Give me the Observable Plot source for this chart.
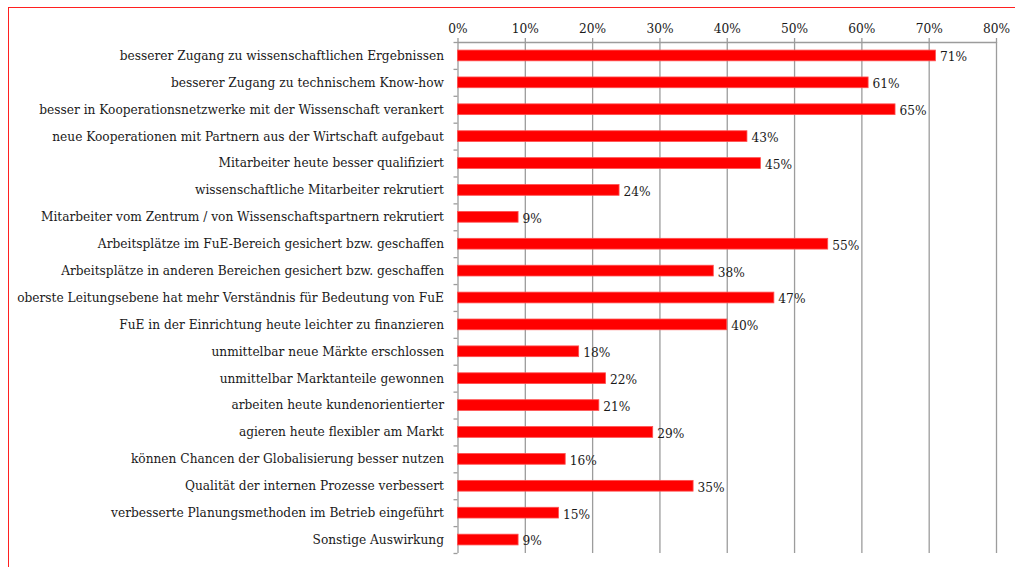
<!DOCTYPE html>
<html>
<head>
<meta charset="utf-8">
<script src="https://cdn.jsdelivr.net/npm/d3@7"></script>
<script src="https://cdn.jsdelivr.net/npm/@observablehq/plot@0.6"></script>
<style>
  html, body { margin: 0; padding: 0; background: #fff; overflow: hidden; }
  #frame { position: absolute; left: 8px; top: 7px; width: 1200px; height: 800px;
           border-top: 1px solid #ff2020; border-left: 1px solid #ff2020; }
  #chart { position: absolute; left: 0; top: 0; }
</style>
</head>
<body>
<div id="frame"></div>
<div id="chart"></div>
<script>
const categories = [
  "besserer Zugang zu wissenschaftlichen Ergebnissen",
  "besserer Zugang zu technischem Know-how",
  "besser in Kooperationsnetzwerke mit der Wissenschaft verankert",
  "neue Kooperationen mit Partnern aus der Wirtschaft aufgebaut",
  "Mitarbeiter heute besser qualifiziert",
  "wissenschaftliche Mitarbeiter rekrutiert",
  "Mitarbeiter vom Zentrum / von Wissenschaftspartnern rekrutiert",
  "Arbeitsplätze im FuE-Bereich gesichert bzw. geschaffen",
  "Arbeitsplätze in anderen Bereichen gesichert bzw. geschaffen",
  "oberste Leitungsebene hat mehr Verständnis für Bedeutung von FuE",
  "FuE in der Einrichtung heute leichter zu finanzieren",
  "unmittelbar neue Märkte erschlossen",
  "unmittelbar Marktanteile gewonnen",
  "arbeiten heute kundenorientierter",
  "agieren heute flexibler am Markt",
  "können Chancen der Globalisierung besser nutzen",
  "Qualität der internen Prozesse verbessert",
  "verbesserte Planungsmethoden im Betrieb eingeführt",
  "Sonstige Auswirkung"
];
const values = [71, 61, 65, 43, 45, 24, 9, 55, 38, 47, 40, 18, 22, 21, 29, 16, 35, 15, 9];
const xTicks = [0, 10, 20, 30, 40, 50, 60, 70, 80];

const data = categories.map((c, i) => ({cat: c, v: values[i]}));

const W = 1015, H = 567, mT = 42, mB = 14, mL = 457.5, mR = 19;
const step = (H - mT - mB) / categories.length;
const inset = step * 0.3;
const grid = "#9c9c9c";
const font = "DejaVu Serif";
const fs = 12.2;

const chart = Plot.plot({
  width: W, height: H,
  marginTop: mT, marginBottom: mB, marginLeft: mL, marginRight: mR,
  style: {fontFamily: font, fontSize: fs + "px", color: "#1a1a1a", background: "transparent"},
  x: {domain: [0, 80], label: null},
  y: {domain: categories, padding: 0, round: false, label: null},
  marks: [
    Plot.ruleX(xTicks, {stroke: grid, strokeWidth: 1.3}),
    Plot.ruleY([categories[0]], {x1: 0, x2: 80, dy: -step / 2, stroke: grid, strokeWidth: 1.3}),
    Plot.ruleY(categories, {x1: 0, x2: 0, insetLeft: -4, dy: step / 2, stroke: grid, strokeWidth: 1.3}),
    Plot.ruleY([categories[0]], {x1: 0, x2: 0, insetLeft: -4, dy: -step / 2, stroke: grid, strokeWidth: 1.3}),
    Plot.axisX(xTicks, {anchor: "top", label: null, tickSize: 5, tickPadding: 5, stroke: grid, strokeWidth: 1.3,
      tickFormat: d => d + "%", fontSize: fs, fill: "#1a1a1a"}),
    Plot.axisY({label: null, tickSize: 0, tickPadding: 14, fontSize: fs, fill: "#1a1a1a"}),
    Plot.barX(data, {x: "v", y: "cat", insetTop: inset, insetBottom: inset,
      fill: "#ff0000", stroke: "#ff5050", strokeWidth: 0.8}),
    Plot.text(data, {x: "v", y: "cat", text: d => d.v + "%", textAnchor: "start", dx: 4, dy: 1.5,
      fontSize: fs, fill: "#1a1a1a"})
  ]
});
document.getElementById("chart").appendChild(chart);
</script>
</body>
</html>
